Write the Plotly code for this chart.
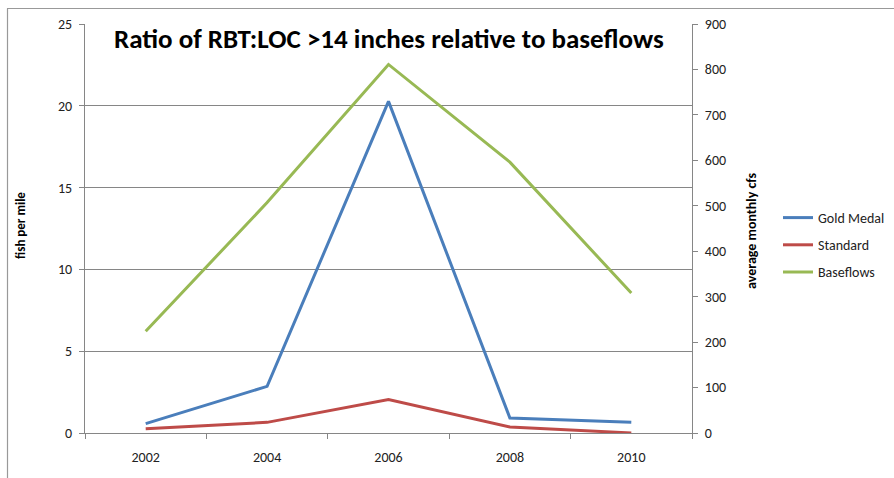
import plotly.graph_objects as go

years = ["2002", "2004", "2006", "2008", "2010"]
gold_medal = [0.57, 2.85, 20.27, 0.92, 0.65]
standard = [0.26, 0.65, 2.04, 0.37, 0.0]
baseflows = [224, 507, 811, 596, 308]

W, H = 894, 478
L, R, T, B = 85, 202, 24, 45
pw, ph = W - L - R, H - T - B

def px_x(x):
    return (x - L) / pw

def px_y(y):
    return (H - B - y) / ph

FONT = "Carlito, Liberation Sans Narrow, Open Sans, sans-serif"

fig = go.Figure()
fig.add_trace(go.Scatter(x=years, y=gold_medal, name="Gold Medal", mode="lines", legendgroup="a",
                         line=dict(color="#4a7ebb", width=3)))
fig.add_trace(go.Scatter(x=years, y=standard, name="Standard", mode="lines", legendgroup="b",
                         line=dict(color="#be4b48", width=3)))
fig.add_trace(go.Scatter(x=years, y=baseflows, name="Baseflows", mode="lines", legendgroup="c",
                         line=dict(color="#98b954", width=3), yaxis="y2"))

tickfont = dict(family=FONT, size=14, color="#222")

fig.update_layout(
    width=W, height=H,
    margin=dict(l=L, r=R, t=T, b=B, pad=0, autoexpand=False),
    paper_bgcolor="white", plot_bgcolor="white",
    showlegend=True,
    legend=dict(xref="container", yref="container", x=778 / W, y=1 - 202 / H,
                xanchor="left", yanchor="top",
                font=dict(family=FONT, size=14, color="#222"),
                tracegroupgap=6, itemwidth=30, bgcolor="rgba(0,0,0,0)"),
    xaxis=dict(type="category", range=[-0.5, 4.5], tickson="boundaries",
               ticks="outside", ticklen=5, tickcolor="#868686",
               showline=True, linecolor="#868686", linewidth=1,
               showgrid=False, tickfont=tickfont, ticklabelstandoff=11, fixedrange=True),
    yaxis=dict(range=[0, 25], dtick=5, ticks="outside", ticklen=5, tickcolor="#868686",
               showline=True, linecolor="#868686", linewidth=1,
               showgrid=True, gridcolor="#868686", gridwidth=1,
               zeroline=False, tickfont=tickfont, ticklabelstandoff=4),
    yaxis2=dict(range=[0, 900], dtick=100, overlaying="y", side="right",
                ticks="outside", ticklen=5, tickcolor="#868686",
                showline=True, linecolor="#868686", linewidth=1,
                showgrid=False, zeroline=False, tickfont=tickfont, ticklabelstandoff=4),
    shapes=[
        dict(type="line", xref="paper", yref="paper", x0=px_x(7), x1=px_x(W + 5),
             y0=px_y(8.5), y1=px_y(8.5), line=dict(color="#999999", width=1.2)),
        dict(type="line", xref="paper", yref="paper", x0=px_x(7.5), x1=px_x(7.5),
             y0=px_y(8.5), y1=px_y(H + 5), line=dict(color="#999999", width=1.2)),
    ],
    annotations=[
        dict(text="<b>Ratio of RBT:LOC >14 inches relative to baseflows</b>",
             xref="paper", yref="paper", x=0.5, y=px_y(38), xanchor="center", yanchor="middle",
             showarrow=False, font=dict(family=FONT, size=27, color="#000")),
        dict(text="<b>fish per mile</b>", xref="paper", yref="paper",
             x=px_x(20), y=px_y(226), xanchor="center", yanchor="middle", textangle=-90,
             showarrow=False, font=dict(family=FONT, size=13, color="#000")),
        dict(text="<b>average monthly cfs</b>", xref="paper", yref="paper",
             x=px_x(751), y=px_y(230), xanchor="center", yanchor="middle", textangle=-90,
             showarrow=False, font=dict(family=FONT, size=14, color="#000")),
    ],
)

fig.write_html("out.html", config={"displayModeBar": False},
               post_script="document.body.style.margin='0px';document.body.style.overflow='hidden';")
